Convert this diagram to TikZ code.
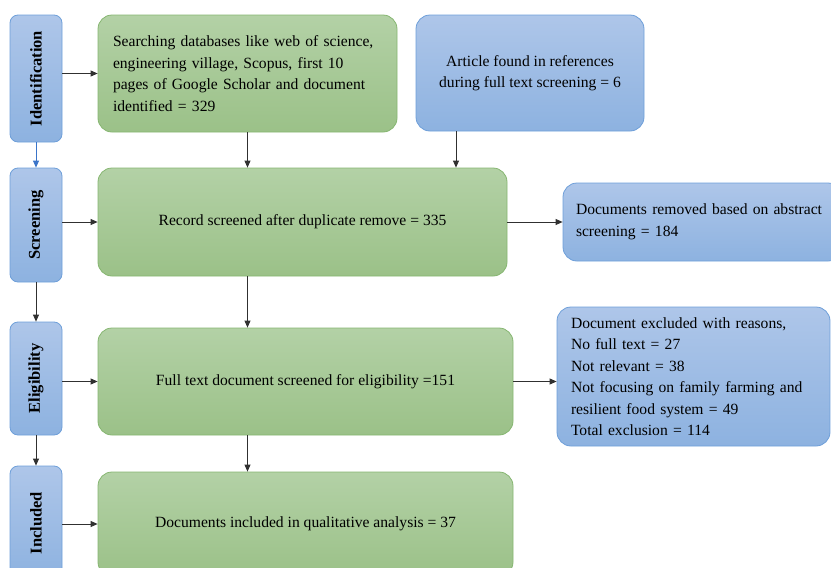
\documentclass[tikz,border=0pt]{standalone}
\usepackage{fontspec}
\setmainfont{Liberation Serif}
\usetikzlibrary{positioning, arrows.meta}
\definecolor{verdetop}{HTML}{B3D1A6}
\definecolor{verdebot}{HTML}{9BC188}
\definecolor{bordoverde}{HTML}{86B671}
\definecolor{blutop}{HTML}{AEC6E9}
\definecolor{blubot}{HTML}{8DB2E0}
\definecolor{bordoblu}{HTML}{6E9FD9}
\definecolor{grigio}{HTML}{303030}
\definecolor{frecciablu}{HTML}{3A74C9}
\newcommand\testo{\fontsize{15.6}{21.5}\selectfont}
\newcommand\testofase{\fontsize{16.5}{20}\selectfont\bfseries}

\begin{document}
\begin{tikzpicture}[x=1pt, y=-1pt,
    fase/.style={draw=bordoblu, line width=0.8pt, rounded corners=8pt, top color=blutop, bottom color=blubot, minimum width=52pt, inner sep=0pt, font=\testofase},
    verde/.style={draw=bordoverde, line width=0.8pt, rounded corners=14pt, top color=verdetop, bottom color=verdebot, inner sep=0pt, font=\testo},
    blu/.style={draw=bordoblu, line width=0.8pt, rounded corners=14pt, top color=blutop, bottom color=blubot, inner sep=0pt, font=\testo},
    freccia/.style={-{Triangle[length=7pt,width=6pt]}, line width=0.8pt, color=grigio}]
    \clip (0,0) rectangle (831,568);
    %fasi a sinistra
    \node[fase, minimum height=127pt] (ident) at (36,78.5) {\rotatebox{90}{Identification}};
    \node[fase, minimum height=114pt] (screen) at (36,225) {\rotatebox{90}{Screening}};
    \node[fase, minimum height=113pt] (elig) at (36,378.5) {\rotatebox{90}{Eligibility}};
    \node[fase, minimum height=114pt] (incl) at (36,523) {\rotatebox{90}{Included}};
    %riquadri centrali
    \node[verde, minimum height=117pt, text width=269pt, inner xsep=15pt, align=left] (search) at (247.5,73.5) {Searching databases like web of science,\\ engineering village, Scopus, first 10\\ pages of Google Scholar and document\\ identified = 329};
    \node[verde, minimum width=409pt, minimum height=108pt] (record) at (302.5,222) {Record screened after duplicate remove = 335};
    \node[verde, minimum width=415pt, minimum height=107pt] (fulltext) at (305.5,381.5) {Full text document screened for eligibility =151};
    \node[verde, minimum width=415pt, minimum height=104pt] (included) at (305.5,524) {Documents included in qualitative analysis = 37};
    %riquadri blu a destra
    \node[blu, minimum width=228pt, minimum height=116pt, align=center] (refs) at (530,73) {Article found in references\\ during full text screening = 6};
    \node[blu, minimum height=78pt, text width=253pt, inner xsep=13pt, align=left] (removed) at (702.5,222) {Documents removed based on abstract\\ screening = 184};
    \node[blu, minimum height=139pt, text width=245pt, inner xsep=14pt, align=left] (excluded) at (693.5,376.5) {Document excluded with reasons,\\ No full text = 27\\ Not relevant = 38\\ Not focusing on family farming and\\ resilient food system = 49\\ Total exclusion = 114};
    %frecce verticali
    \coordinate (refsfoot) at (456,131);
    \draw[freccia] (search.south) -- (search.south |- record.north);
    \draw[freccia] (refsfoot) -- (refsfoot |- record.north);
    \draw[freccia] (search.south |- record.south) -- (search.south |- fulltext.north);
    \draw[freccia] (search.south |- fulltext.south) -- (search.south |- included.north);
    %frecce verso destra
    \draw[freccia] (record.east) -- (removed.west);
    \draw[freccia] (fulltext.east) -- (fulltext.east -| excluded.west);
    %frecce tra le fasi
    \draw[freccia, color=frecciablu] (ident.south) -- (screen.north);
    \draw[freccia] (screen.south) -- (elig.north);
    \draw[freccia] (elig.south) -- (incl.north);
    \draw[freccia] (ident.east |- search.west) -- (search.west);
    \draw[freccia] (screen.east |- record.west) -- (record.west);
    \draw[freccia] (elig.east |- fulltext.west) -- (fulltext.west);
    \draw[freccia] (incl.east |- included.west) -- (included.west);
\end{tikzpicture}
\end{document}
